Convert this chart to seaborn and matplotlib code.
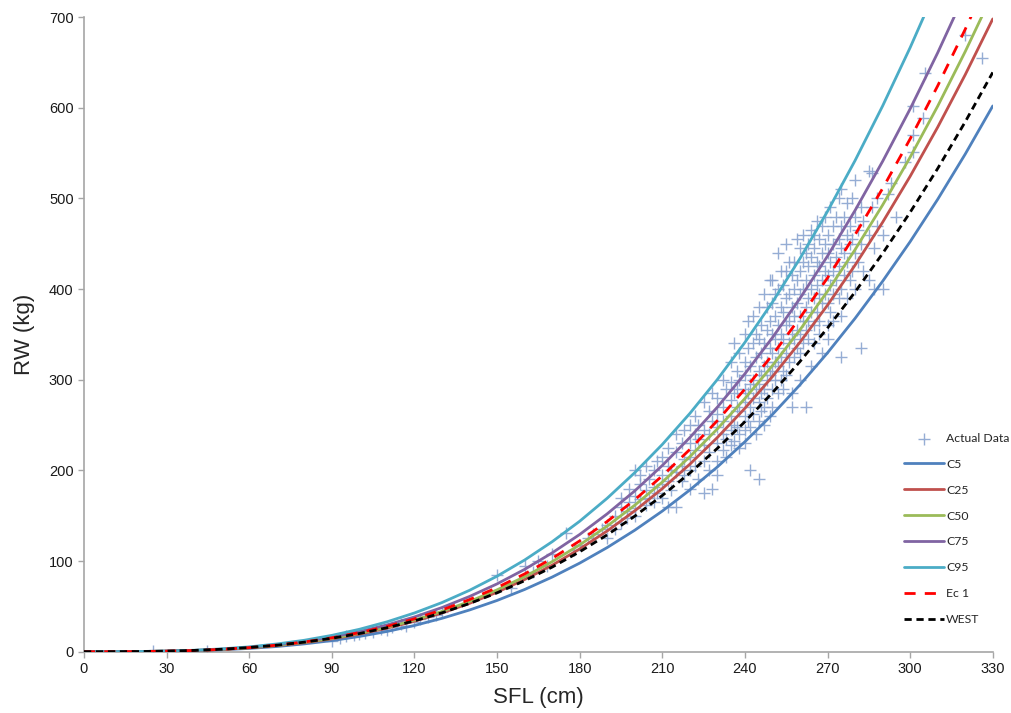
import matplotlib
matplotlib.use("Agg")
from matplotlib import pyplot as plt
import seaborn as sns
import pandas as pd

# SFL grid of the model curves (cm)
sfl = [0, 10, 20, 30, 40, 50, 60, 70, 80, 90, 100, 110, 120, 130, 140, 150, 160,
       170, 180, 190, 200, 210, 220, 230, 240, 250, 260, 270, 280, 290, 300, 310, 320, 330]

# curve values (kg)
c5 = [0, 0.02, 0.13, 0.45, 1.07, 2.09, 3.6, 5.7, 8.6, 12.2, 16.8, 22.3, 28.9, 36.8, 46.0, 56.5, 68.6,
      82.3, 97.7, 114.9, 134.0, 155.1, 178.4, 203.8, 231.6, 261.7, 294.4, 329.7, 367.7, 408.6, 452.3, 499.0, 548.9, 602]
c25 = [0, 0.02, 0.16, 0.52, 1.24, 2.43, 4.2, 6.7, 9.9, 14.2, 19.4, 25.9, 33.6, 42.7, 53.3, 65.6, 79.6,
       95.4, 113.3, 133.2, 155.4, 179.9, 206.8, 236.3, 268.5, 303.5, 341.4, 382.3, 426.4, 473.7, 524.4, 578.6, 636.5, 698]
c50 = [0, 0.02, 0.16, 0.55, 1.29, 2.53, 4.4, 6.9, 10.3, 14.7, 20.2, 26.9, 34.9, 44.4, 55.4, 68.2, 82.7,
       99.3, 117.8, 138.6, 161.6, 187.1, 215.1, 245.8, 279.3, 315.6, 355.1, 397.6, 443.5, 492.7, 545.5, 601.8, 662.0, 726]
c75 = [0, 0.02, 0.18, 0.60, 1.42, 2.77, 4.8, 7.6, 11.4, 16.2, 22.2, 29.5, 38.3, 48.7, 60.9, 74.8, 90.8,
       109.0, 129.3, 152.1, 177.4, 205.4, 236.2, 269.8, 306.6, 346.5, 389.8, 436.5, 486.8, 540.9, 598.8, 660.7, 726.7, 797]
c95 = [0, 0.02, 0.20, 0.67, 1.58, 3.08, 5.3, 8.5, 12.6, 18.0, 24.7, 32.9, 42.7, 54.2, 67.7, 83.3, 101.1,
       121.3, 143.9, 169.3, 197.5, 228.6, 262.8, 300.3, 341.2, 385.6, 433.8, 485.8, 541.8, 602.0, 666.4, 735.3, 808.8, 887]
ec1 = [0, 0.02, 0.17, 0.57, 1.34, 2.62, 4.5, 7.2, 10.7, 15.3, 21.0, 27.9, 36.2, 46.0, 57.5, 70.7, 85.8,
       102.9, 122.2, 143.7, 167.6, 194.0, 223.1, 254.9, 289.7, 327.4, 368.3, 412.4, 460.0, 511.0, 565.7, 624.2, 686.6, 753]
west = [0, 0.03, 0.19, 0.61, 1.40, 2.68, 4.6, 7.1, 10.5, 14.8, 20.0, 26.4, 34.0, 42.9, 53.2, 64.9, 78.3,
        93.3, 110.2, 128.9, 149.5, 172.3, 197.1, 224.3, 253.7, 285.7, 320.1, 357.1, 396.8, 439.3, 484.7, 533.0, 584.5, 639]

# observed fish: (SFL, [RW values at that SFL])
actual_groups = [
    (25, [0.5]), (44.5, [1]), (90, [12]), (93, [15]), (95, [17]), (98, [18]), (100, [20]),
    (102, [21]), (105, [22]), (108, [25]), (110, [24]), (112, [27]), (115, [30]), (117, [28]),
    (120, [33]), (122, [36]), (125, [38]), (128, [40]), (130, [44]), (150, [85]), (155, [70]),
    (160, [95]), (163, [88]), (165, [100]), (168, [95]), (170, [108]), (175, [131]), (178, [112]),
    (180, [118]), (183, [125]), (185, [130]), (188, [135]),
    (190, [140, 125]), (193, [150, 135]), (195, [160, 142, 170]), (197, [155, 148]),
    (198, [165, 180]), (200, [200, 172, 158, 150]), (202, [195, 168, 185]), (204, [178, 162, 205]),
    (205, [190, 170]), (207, [200, 182, 165]), (208, [210, 175]), (210, [215, 195, 185, 170]),
    (212, [205, 188, 160, 225]), (213, [200, 178]), (215, [160, 220, 198, 240]),
    (217, [230, 205, 188]), (218, [245, 212, 195]), (220, [250, 230, 215, 180, 200]),
    (222, [260, 240, 222, 205]), (223, [190, 235, 250]), (225, [175, 275, 245, 228, 210]),
    (227, [265, 240, 220, 200]), (228, [180, 285, 255]), (230, [280, 262, 248, 230, 210, 195]),
    (232, [300, 270, 255, 240, 222]), (233, [290, 235, 215]), (235, [320, 298, 278, 260, 245, 228]),
    (236, [340, 285, 250, 232]), (237, [290, 270, 310, 248]), (238, [330, 300, 265, 240, 225]),
    (240, [350, 320, 305, 290, 275, 260, 245, 230]), (241, [365, 335, 285, 255]),
    (242, [200, 315, 295, 270, 248]), (243, [370, 340, 300, 280, 262]), (244, [350, 325, 290, 240]),
    (245, [190, 380, 345, 310, 295, 275, 255]), (246, [360, 330, 305, 285, 265]),
    (247, [395, 340, 315, 290, 270, 250]), (248, [380, 355, 320, 300, 280]),
    (249, [410, 365, 335, 305, 260]), (250, [410, 385, 350, 330, 310, 290, 270]),
    (251, [395, 370, 345, 320, 300]), (252, [440, 400, 360, 335, 315, 285]),
    (253, [420, 380, 350, 325, 300]), (254, [405, 375, 345, 310, 290]),
    (255, [450, 420, 390, 360, 330, 305]), (256, [430, 395, 365, 340, 320]),
    (257, [415, 380, 350, 285, 270]), (258, [430, 400, 370, 345, 325]),
    (259, [455, 410, 385, 355, 335]), (260, [445, 420, 395, 370, 350, 330, 300]),
    (261, [460, 430, 400, 365, 340]), (262, [270, 440, 410, 380, 355]),
    (263, [450, 425, 390, 365, 345]), (264, [465, 435, 400, 375, 315]),
    (265, [460, 445, 415, 390, 360, 340]), (266, [475, 430, 405, 375]),
    (267, [455, 425, 395, 365, 350]), (268, [440, 470, 410, 385, 330]),
    (269, [480, 450, 420, 395]), (270, [460, 440, 415, 385, 360, 345]),
    (271, [490, 430, 405, 375]), (272, [420, 470, 450, 395, 365]), (273, [480, 435, 410]),
    (274, [500, 455, 425, 390]), (275, [510, 325, 470, 445, 400, 370]), (276, [480, 440, 415]),
    (277, [495, 460, 430, 390]), (278, [470, 450, 410]), (279, [500, 455, 420]),
    (280, [520, 480, 440, 400]), (281, [465, 430]), (282, [335, 490, 450]), (283, [475, 420]),
    (285, [530, 460, 410]), (286, [528, 490]), (287, [400, 445]), (288, [500, 470]),
    (290, [460, 400]), (292, [505]), (293, [517]), (295, [480]), (298, [540]),
    (301, [602, 570, 551]), (304.5, [589]), (305.5, [638]), (320, [680]), (326, [655]),
]

actual_sfl = [x for x, ys in actual_groups for _ in ys]
actual_rw = [y for _, ys in actual_groups for y in ys]

curves = pd.DataFrame({"SFL": sfl, "C5": c5, "C25": c25, "C50": c50, "C75": c75,
                       "C95": c95, "Ec 1": ec1, "WEST": west})

sns.set_style("white")
plt.rcParams['font.family'] = ['Liberation Sans', 'DejaVu Sans']

fig = plt.figure(figsize=(10.12, 7.13), dpi=100)
ax = fig.add_axes([0.083, 0.086, 0.898, 0.89])

sns.scatterplot(x=actual_sfl, y=actual_rw, marker="+", s=80, color="#8AA4D0",
                linewidth=1.0, alpha=0.9, label="Actual Data", ax=ax, zorder=1)

styles = [
    ("C5", "#4F81BD", "-"),
    ("C25", "#C0504D", "-"),
    ("C50", "#9BBB59", "-"),
    ("C75", "#8064A2", "-"),
    ("C95", "#4BACC6", "-"),
    ("Ec 1", "#FF0000", (0, (4.0, 3.3))),
    ("WEST", "#000000", (0, (2.6, 1.7))),
]
for name, col, ls in styles:
    sns.lineplot(data=curves, x="SFL", y=name, color=col, linestyle=ls,
                 linewidth=2.0, label=name, ax=ax, zorder=3)

ax.set_xlim(0, 330)
ax.set_ylim(0, 700)
ax.set_xticks(range(0, 331, 30))
ax.set_yticks(range(0, 701, 100))
ax.tick_params(axis="both", labelsize=10.5, length=4, width=1, color="#A6A6A6",
               labelcolor="#1a1a1a", direction="out", bottom=True, left=True)
for side in ["top", "right"]:
    ax.spines[side].set_visible(False)
for side in ["left", "bottom"]:
    ax.spines[side].set_color("#A6A6A6")
    ax.spines[side].set_linewidth(1.2)

ax.set_xlabel("SFL (cm)", fontsize=16, labelpad=8)
ax.set_ylabel("RW (kg)", fontsize=16, labelpad=10)

leg = ax.legend(loc="upper left", bbox_to_anchor=(0.893, 0.393), bbox_transform=fig.transFigure,
                frameon=False, fontsize=8.8, handlelength=3.3, handletextpad=0.15,
                labelspacing=1.22, borderaxespad=0, borderpad=0)
for t in leg.get_texts():
    t.set_family(["Lato", "DejaVu Sans"])

fig.savefig("out.png", dpi=100)
